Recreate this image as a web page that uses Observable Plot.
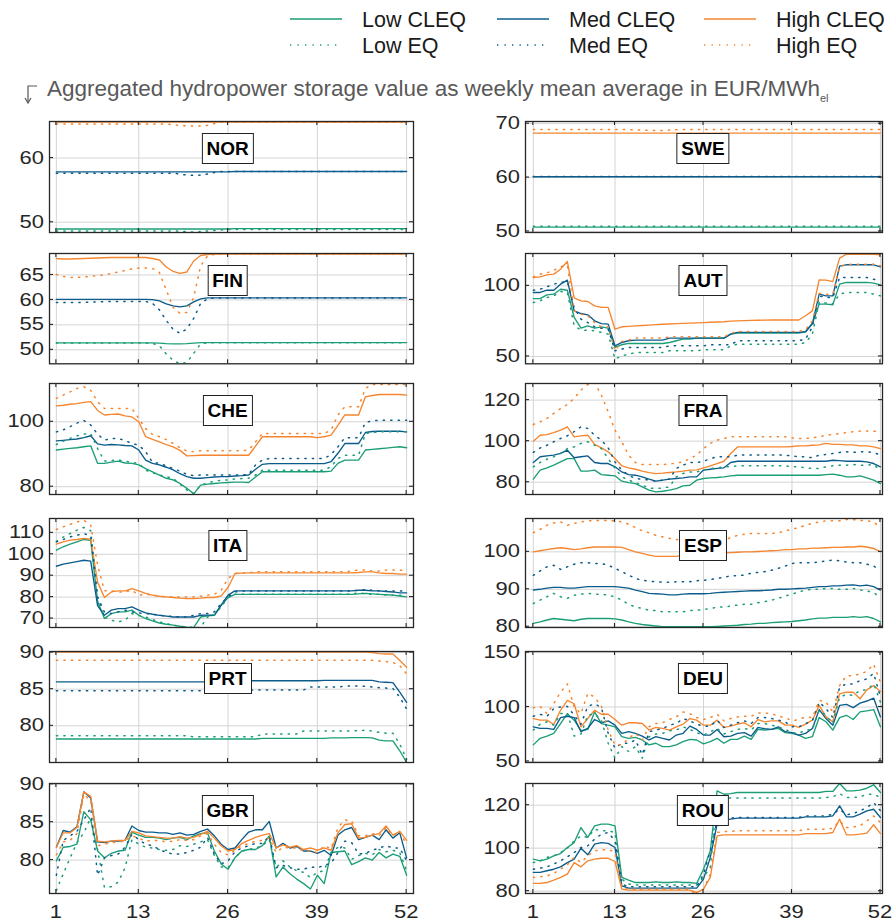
<!DOCTYPE html>
<html>
<head>
<meta charset="utf-8">
<script src="https://cdn.jsdelivr.net/npm/d3@7"></script>
<script src="https://cdn.jsdelivr.net/npm/@observablehq/plot@0.6"></script>
<style>
  body { margin: 0; background: #fff; }
  #root { position: relative; width: 896px; height: 924px; overflow: hidden; font-family: "Liberation Sans", Arial, sans-serif; }
  .chart { position: absolute; }
  .tag { position: absolute; transform: translateX(-50%); background: #fff; border: 1.3px solid #222; font-weight: bold; font-size: 19px; line-height: 29px; padding: 0 4px; color: #000; }
  .sub { position: absolute; left: 47px; top: 76px; font-size: 22.5px; color: #595959; white-space: nowrap; }
  .sub sub { font-size: 11px; }
</style>
</head>
<body>
<div id="root"></div>
<script>
// Weekly mean hydropower storage values (EUR/MWh_el), weeks 1..52
const weekTicks = [1, 13, 26, 39, 52];
const seriesNames = ["Low CLEQ", "Med CLEQ", "High CLEQ", "Low EQ", "Med EQ", "High EQ"];
const seriesColors = ["#1b9e77", "#0b5c8c", "#f5862f", "#1b9e77", "#0b5c8c", "#f5862f"];

// NOR
const NOR_lowCLEQ = [
  48.95,48.95,48.95,48.95,48.95,48.95,48.95,48.95,48.95,48.95,48.95,48.95,48.95,
  48.95,48.95,48.95,48.95,48.95,48.95,48.95,48.95,48.95,48.95,48.95,48.95,48.95,
  49,49,49,49,49,49,49,49,49,49,49,49,49,
  49,49,49,49,49,49,49,49,49,49,49,49,49];
const NOR_medCLEQ = [
  57.85,57.85,57.85,57.85,57.85,57.85,57.85,57.85,57.85,57.85,57.85,57.85,57.85,
  57.85,57.85,57.85,57.85,57.85,57.85,57.85,57.85,57.85,57.85,57.85,57.85,57.85,
  57.9,57.9,57.9,57.9,57.9,57.9,57.9,57.9,57.9,57.9,57.9,57.9,57.9,
  57.9,57.9,57.9,57.9,57.9,57.9,57.9,57.9,57.9,57.9,57.9,57.9,57.9];
const NOR_highCLEQ = [
  65.6,65.6,65.6,65.6,65.6,65.6,65.6,65.6,65.6,65.6,65.6,65.6,65.6,
  65.6,65.6,65.6,65.6,65.6,65.6,65.6,65.6,65.6,65.6,65.6,65.6,65.6,
  65.6,65.6,65.6,65.6,65.6,65.6,65.6,65.6,65.6,65.6,65.6,65.6,65.6,
  65.6,65.6,65.6,65.6,65.6,65.6,65.6,65.6,65.6,65.6,65.6,65.6,65.6];
const NOR_lowEQ = [
  48.65,48.65,48.65,48.65,48.65,48.65,48.65,48.65,48.65,48.65,48.65,48.65,48.65,
  48.65,48.65,48.65,48.65,48.65,48.6,48.55,48.45,48.55,48.65,48.7,48.8,48.85,
  48.85,48.85,48.85,48.85,48.85,48.85,48.85,48.85,48.85,48.85,48.85,48.85,48.85,
  48.85,48.85,48.85,48.85,48.85,48.85,48.85,48.85,48.85,48.85,48.85,48.85,48.85];
const NOR_medEQ = [
  57.65,57.65,57.65,57.65,57.65,57.65,57.65,57.65,57.65,57.65,57.65,57.65,57.65,
  57.65,57.65,57.65,57.65,57.65,57.5,57.35,57.3,57.35,57.5,57.75,57.9,57.9,
  57.9,57.9,57.9,57.9,57.9,57.9,57.9,57.9,57.9,57.9,57.9,57.9,57.9,
  57.9,57.9,57.9,57.9,57.9,57.9,57.9,57.9,57.9,57.9,57.9,57.9,57.9];
const NOR_highEQ = [
  65.3,65.3,65.3,65.3,65.3,65.3,65.3,65.3,65.3,65.3,65.3,65.3,65.3,
  65.3,65.3,65.3,65.3,65.2,65.1,65,65,65,65.1,65.4,65.6,65.6,
  65.6,65.6,65.6,65.6,65.6,65.6,65.6,65.6,65.6,65.6,65.6,65.6,65.6,
  65.6,65.6,65.6,65.6,65.6,65.6,65.6,65.6,65.6,65.6,65.6,65.6,65.6];

// SWE
const SWE_lowCLEQ = [
  50.8,50.8,50.8,50.8,50.8,50.8,50.8,50.8,50.8,50.8,50.8,50.8,50.8,
  50.8,50.8,50.8,50.8,50.8,50.8,50.8,50.8,50.8,50.8,50.8,50.8,50.8,
  50.8,50.8,50.8,50.8,50.8,50.8,50.8,50.8,50.8,50.8,50.8,50.8,50.8,
  50.8,50.8,50.8,50.8,50.8,50.8,50.8,50.8,50.8,50.8,50.8,50.8,50.8];
const SWE_medCLEQ = [
  60.15,60.15,60.15,60.15,60.15,60.15,60.15,60.15,60.15,60.15,60.15,60.15,60.15,
  60.15,60.15,60.15,60.15,60.15,60.15,60.15,60.15,60.15,60.15,60.15,60.15,60.15,
  60.15,60.15,60.15,60.15,60.15,60.15,60.15,60.15,60.15,60.15,60.15,60.15,60.15,
  60.15,60.15,60.15,60.15,60.15,60.15,60.15,60.15,60.15,60.15,60.15,60.15,60.15];
const SWE_highCLEQ = [
  68.25,68.25,68.25,68.25,68.25,68.25,68.25,68.25,68.25,68.25,68.25,68.25,68.25,
  68.25,68.25,68.25,68.25,68.25,68.25,68.25,68.25,68.25,68.25,68.25,68.25,68.25,
  68.25,68.25,68.25,68.25,68.25,68.25,68.25,68.25,68.25,68.25,68.25,68.25,68.25,
  68.25,68.25,68.25,68.25,68.25,68.25,68.25,68.25,68.25,68.25,68.25,68.25,68.25];
const SWE_lowEQ = [
  50.95,50.95,50.95,50.95,50.95,50.95,50.95,50.95,50.95,50.95,50.95,50.95,50.95,
  50.95,50.95,50.95,50.95,50.95,50.95,50.95,50.95,50.95,50.95,50.95,50.95,50.95,
  50.95,50.95,50.95,50.95,50.95,50.95,50.95,50.95,50.95,50.95,50.95,50.95,50.95,
  50.95,50.95,50.95,50.95,50.95,50.95,50.95,50.95,50.95,50.95,50.95,50.95,50.95];
const SWE_medEQ = [
  60.2,60.2,60.2,60.2,60.2,60.2,60.2,60.2,60.2,60.2,60.2,60.2,60.2,
  60.2,60.2,60.2,60.2,60.2,60.2,60.2,60.2,60.2,60.2,60.2,60.2,60.2,
  60.2,60.2,60.2,60.2,60.2,60.2,60.2,60.2,60.2,60.2,60.2,60.2,60.2,
  60.2,60.2,60.2,60.2,60.2,60.2,60.2,60.2,60.2,60.2,60.2,60.2,60.2];
const SWE_highEQ = [
  68.9,68.9,68.9,68.9,68.9,68.9,68.9,68.9,68.9,68.9,68.9,68.9,68.9,
  68.9,68.9,68.85,68.8,68.75,68.75,68.75,68.8,68.85,68.9,68.9,68.9,68.9,
  68.9,68.9,68.9,68.9,68.9,68.9,68.9,68.9,68.9,68.9,68.9,68.9,68.9,
  68.9,68.9,68.9,68.9,68.9,68.9,68.9,68.9,68.9,68.9,68.9,68.9,68.9];

// FIN
const FIN_lowCLEQ = [
  51.4,51.4,51.4,51.4,51.4,51.4,51.4,51.4,51.4,51.4,51.4,51.4,51.4,
  51.4,51.4,51.35,51.25,51.2,51.2,51.25,51.35,51.45,51.45,51.45,51.45,51.45,
  51.45,51.45,51.45,51.45,51.45,51.45,51.45,51.45,51.45,51.45,51.45,51.45,51.45,
  51.45,51.45,51.45,51.45,51.45,51.45,51.45,51.45,51.45,51.45,51.45,51.45,51.45];
const FIN_medCLEQ = [
  60.1,60.1,60.1,60.1,60.1,60.1,60.1,60.1,60.1,60.1,60.1,60.1,60.1,
  60.1,60.05,59.8,59.2,58.8,58.6,58.8,59.6,60.2,60.4,60.4,60.4,60.4,
  60.4,60.4,60.4,60.4,60.4,60.4,60.4,60.4,60.4,60.4,60.4,60.4,60.4,
  60.4,60.4,60.4,60.4,60.4,60.4,60.4,60.4,60.4,60.4,60.4,60.4,60.4];
const FIN_highCLEQ = [
  68.3,68.2,68.2,68.25,68.3,68.35,68.4,68.45,68.5,68.5,68.5,68.5,68.5,
  68.5,68.3,68,66.6,65.7,65.3,65.6,67.8,68.9,69.1,69.2,69.2,69.2,
  69.2,69.2,69.2,69.2,69.2,69.2,69.2,69.2,69.2,69.2,69.2,69.2,69.2,
  69.2,69.2,69.2,69.2,69.2,69.2,69.2,69.2,69.2,69.2,69.2,69.2,69.2];
const FIN_lowEQ = [
  51.35,51.35,51.35,51.35,51.35,51.35,51.35,51.35,51.35,51.35,51.35,51.35,51.35,
  51.35,51.3,50.8,49.2,47.9,47.2,47.5,49.3,51.2,51.4,51.4,51.4,51.4,
  51.4,51.4,51.4,51.4,51.4,51.4,51.4,51.4,51.4,51.4,51.4,51.4,51.4,
  51.4,51.4,51.4,51.4,51.4,51.4,51.4,51.4,51.4,51.4,51.4,51.4,51.4];
const FIN_medEQ = [
  59.5,59.5,59.5,59.5,59.5,59.55,59.6,59.65,59.7,59.7,59.7,59.7,59.7,
  59.7,59.3,58,55.9,54.1,53.3,54.2,56.3,59.3,60.2,60.4,60.4,60.4,
  60.4,60.4,60.4,60.4,60.4,60.4,60.4,60.4,60.4,60.4,60.4,60.4,60.4,
  60.4,60.4,60.4,60.4,60.4,60.4,60.4,60.4,60.4,60.4,60.4,60.4,60.4];
const FIN_highEQ = [
  65.1,64.7,64.5,64.5,64.6,64.7,64.9,65,65.3,65.6,65.9,66.2,66.4,
  66.4,66.3,65.5,62,58.5,57.3,57.5,60.5,66.8,68.8,69.1,69.2,69.2,
  69.2,69.2,69.2,69.2,69.2,69.2,69.2,69.2,69.2,69.2,69.2,69.2,69.2,
  69.2,69.2,69.2,69.2,69.2,69.2,69.2,69.2,69.2,69.2,69.2,69.2,69.2];

// AUT
const AUT_lowCLEQ = [
  91,91,93.6,94.1,97.6,96.9,77.6,70,71.7,70,71,70,56.4,
  58.3,59.2,59.2,59.2,59.2,59.2,59.2,59.9,61.1,62.3,62.3,63,63,
  63,63,63,65.8,66.5,66.5,66.5,66.5,66.5,66.5,66.5,66.5,66.5,
  66.5,67.5,73.3,87,87,86.6,101.2,102.4,102.4,102.4,102.4,101.9,100.7];
const AUT_medCLEQ = [
  95.3,95.3,96.9,96.9,101.2,104,82.3,80.4,79.5,75.2,73.3,72.9,57.5,
  59.9,61.1,61.6,61.6,61.6,61.6,61.6,63,63,63,63,63,63,
  63,63,63,65.8,67,67,67,67,67,67,67,67,67,
  67,67.5,73.3,94.1,92.9,92.9,114,114.9,114.9,114.9,114.9,114.9,113.4];
const AUT_highCLEQ = [
  105.9,106.4,107.8,108.3,111.8,117.2,91.5,89.4,88.9,85.8,84.7,84.7,69.3,
  71,71.3,71.6,71.9,72.2,72.5,72.8,73,73.2,73.4,73.6,73.8,74,
  74.2,74.4,74.6,75,75.2,75.4,75.5,75.6,75.7,75.8,75.8,75.8,75.8,
  75.8,78.8,82.3,104.2,104,103,119.6,122.4,122.4,122.4,122.4,122.4,122];
const AUT_lowEQ = [
  88.2,89.4,91.7,92.9,96,95.3,71.7,68.6,68.6,68.2,67,65.8,48.1,
  50.5,51.6,52.8,52.8,52.8,52.8,52.8,54,54,54,54,54,54.7,
  54.7,54.7,54.7,57.5,58.7,58.7,58.7,58.7,58.7,58.7,58.7,58.7,58.7,
  58.7,59.9,65.8,88.5,87.8,87.3,94.1,95.3,95.3,95.3,95.3,94.1,92.9];
const AUT_medEQ = [
  96.9,97.6,99.3,101.2,102.4,103,84.7,76.4,74,71,70,69.3,54,
  55.2,56.4,56.4,56.4,56.4,56.4,56.4,57.5,57.5,57.5,57.5,57.5,57.5,
  58.3,58.3,58.3,58.3,61.1,61.1,61.1,61.1,61.1,61.1,61.1,61.1,61.1,
  61.1,62.3,71,92.9,91.7,91.7,105.9,105.9,105.9,105.9,105.9,104.7,103];
const AUT_highEQ = [
  106.4,108.3,109.2,111,113.5,114.5,82.3,80,78.8,74,71,71,54,
  60.6,61.6,63,63,63,63,63,63.9,63.9,63.9,63.9,63.9,63.9,
  63.9,63.9,63.9,66.3,67.7,67.7,67.7,67.7,67.7,67.7,67.7,67.7,67.7,
  67.7,69.1,75.2,94.6,94.1,94.1,113.4,115.3,115.3,115.3,115.3,115.3,114.2];

// CHE
const CHE_lowCLEQ = [
  91.3,91.6,91.8,92,92.3,92.6,87.2,87.2,87.6,87.9,87.3,87.2,86.7,
  85.6,84.6,83.6,82.6,82.1,81,79.5,77.8,80.5,80.8,81,81.2,81.3,
  81.4,81.4,81.3,83,84.6,84.6,84.6,84.6,84.6,84.6,84.6,84.6,84.6,
  84.6,84.8,87.2,88.2,88.2,88.2,91.3,91.5,91.7,91.9,92.1,92.3,92];
const CHE_medCLEQ = [
  94.1,94.3,94.5,94.7,95.1,95.7,93.2,92.8,93,92.9,92.7,92.6,91.3,
  88.2,87.2,86.7,86,85.2,84,83.1,82.6,82.6,82.8,83,83.1,83.1,
  83.3,83.4,83.6,85.4,86.9,87.1,87.1,87.1,87.1,87.1,87.1,87.1,87.1,
  87.1,87.7,90.3,93.3,93.3,93.3,96.7,97,97.1,97.1,97.1,97.1,96.9];
const CHE_highCLEQ = [
  104.9,105.1,105.4,105.6,106,106.2,103.5,102.1,102.3,102.4,101.8,101.5,100,
  95.4,94.6,93.8,93,92.3,91.2,89.5,89.6,89.7,89.7,89.7,89.7,89.7,
  89.7,89.7,89.7,92.5,95.4,95.4,95.4,95.4,95.4,95.4,95.4,95.4,95.1,
  95.4,95.9,98.9,102.1,102.1,102.1,107.7,108.1,108.4,108.4,108.4,108.4,108.2];
const CHE_lowEQ = [
  93,94,94.9,95.7,96.2,96.4,91.8,87.9,88.1,88.2,87.9,87.5,87.2,
  85.1,84.3,83.6,83.1,82.6,80.8,79,77.9,80.4,81.2,81.7,82,82.1,
  82.4,82.5,82.6,83.6,85.1,85.1,85.1,85.1,85.1,85.1,85.1,85.1,85.1,
  85.1,86.2,88.7,89.7,89.7,89.7,96.4,96.7,96.9,96.9,96.9,96.9,96.9];
const CHE_medEQ = [
  96.9,97.5,98.5,99.6,100.4,99,96.2,94.4,94.8,94.9,94.2,93.3,92.8,
  90.8,87.5,87.2,86.4,85.6,84.8,83.8,83.4,83.6,83.6,83.6,83.6,83.6,
  83.6,83.6,83.8,86.7,88.2,88.7,88.7,88.7,88.7,88.7,88.7,88.7,88.7,
  88.7,89.9,92.3,95.1,95.1,95.1,99.8,100.3,100.5,100.5,100.5,100.5,100.5];
const CHE_highEQ = [
  107.2,108.2,109.2,110.3,110.8,109.7,106.2,104.1,104.1,104.1,104.1,104.1,101,
  97.9,96.1,95.4,94.5,93.3,92,91,90.8,91.1,91.1,91.1,91.1,91.1,
  91.1,91.1,91.3,93.8,96.4,96.4,96.4,96.4,96.4,96.4,96.4,96.4,96.4,
  96.4,97.4,102.1,104.6,104.6,104.6,110.3,111.5,111.5,111.5,111.5,111.5,111.5];

// FRA
const FRA_lowCLEQ = [
  81.5,85.9,87,88.3,89.9,91.5,91.5,85.4,85.4,85.9,83.7,83.4,83.1,
  80.5,79.8,79.3,77.7,76.1,75.3,75.6,76.1,76.9,78.2,78.5,81,81.8,
  82.1,82.3,82.6,83.1,83.4,83.4,83.4,83.4,83.4,83.4,83.4,83.4,83.4,
  83.4,83.4,83.4,83.4,83.7,83.9,83.4,82.6,82.6,83.1,82.1,81,79.3];
const FRA_medCLEQ = [
  89.6,92.4,92.8,93.2,94,95.6,91.9,92.4,92.8,89.6,89.1,89.1,87.5,
  85,83.7,83.4,82.6,81.5,80.5,81,81.5,81.8,82.1,82.6,82.6,85.9,
  86.3,86.7,87,89.6,90.2,90.2,90.2,90.2,90.2,90.2,90.2,90.2,90.2,
  90.2,90.2,90.2,90.2,90.2,90.7,90.5,90.2,90.2,90.2,89.9,89.1,87.5];
const FRA_highCLEQ = [
  100,102.9,103.2,104.2,105.4,107,102.1,102.6,102.9,98.4,96.7,94.8,91.5,
  88,87,86.3,85.4,84.7,84.2,84.4,84.7,85,85.4,85.9,86,87,
  88,89.1,90.2,94,97.2,97.2,97.2,97.2,97.2,97.2,97.2,97.2,97.4,
  97.7,97.7,98,98.2,98.9,98.4,98.4,98.2,98.2,97.7,97.7,97.2,96.4];
const FRA_lowEQ = [
  87.5,89.6,91.2,92.4,94,96.4,97.2,98.9,99.7,98,96.4,91.5,86.7,
  82.6,81,79.8,78.5,77.2,76.9,77.2,77.7,82.6,84.2,85,85,85.9,
  86.7,87,87.5,87.5,88,88,88,88,88,88,88,88,87.5,
  87.5,87,86.7,86.7,87.5,88,88.3,88.3,88.6,88.3,88.3,88.6,85.9];
const FRA_medEQ = [
  94.5,96.7,98,99.7,101.3,102.6,104.6,107,106.2,102.9,100.5,96.7,89.9,
  85.9,83.4,81.8,81.5,81,80.5,81,81.5,86.7,88.3,89.6,89.6,90.2,
  91.5,92.4,92.4,92.4,93.2,93.2,93.2,93.2,93.2,93.2,93.2,93.2,92.8,
  92.4,92.4,91.9,93.2,93.5,94,94.5,94.8,94.5,94.8,94.8,94.5,93.2];
const FRA_highEQ = [
  108.1,109.4,111.1,113.5,115.9,117.9,120.8,124.9,127.6,128.5,122.4,114.3,105.4,
  99.7,93.2,89.6,88.6,88.6,88.6,88.6,88.9,89.3,89.9,91.5,93.2,96.4,
  98.9,100.5,101.3,102.1,102.1,102.1,102.1,102.1,102.1,102.1,102.1,102.1,101.6,
  101.3,101.3,101.6,102.1,102.9,103.3,103.7,104.2,104.6,104.9,104.9,104.9,104.6];

// ITA
const ITA_lowCLEQ = [
  101.9,103.5,104.7,105.8,106.9,106.5,78,70,72.3,73.1,73.1,73.9,71.5,
  70,68.9,67.9,67.3,66.9,66.4,66,65.8,70.7,71.2,71.5,76.2,79.8,
  81.3,81.3,81.3,81.3,81.3,81.3,81.3,81.3,81.3,81.3,81.3,81.3,81.3,
  81.3,81.3,81.3,81.3,81.3,81.5,81.7,81.5,81.3,81.1,80.9,80.5,80.1];
const ITA_medCLEQ = [
  94.4,95.4,96,96.6,97.2,96.8,76,71.5,73.9,74.6,74.6,75.4,73.9,
  72.6,72,71.5,71.1,70.7,70.7,70.7,70.7,71.5,71.6,71.6,76.2,80.9,
  82.9,82.9,82.9,82.9,82.9,82.9,82.9,82.9,82.9,82.9,82.9,82.9,82.9,
  82.9,82.9,82.9,82.9,82.9,83.2,83.2,82.9,82.9,82.6,82.4,82,82];
const ITA_highCLEQ = [
  104.7,105.8,106.6,106.9,107.4,107,87,79.8,82.4,82.9,82.9,84,82.9,
  81.7,80.9,80.4,80.1,79.8,79.5,79.3,79.3,79.5,79.8,79.8,80.6,84.5,
  91,91.2,91.3,91.3,91.3,91.3,91.3,91.3,91.3,91.3,91.3,91.3,91.3,
  91.3,91.3,91.3,91.3,91.3,91.5,91.8,91.8,91.3,91,91,90.7,90.7];
const ITA_lowEQ = [
  106,108,109.7,111.2,112.5,111,80,70.7,69.2,68.4,69.2,72.3,71.5,
  70.7,69.5,68.4,67.6,66.9,66.4,66,65.8,65.8,70.7,71.5,75.4,79.8,
  81.3,81.3,81.3,81.3,81.3,81.3,81.3,81.3,81.3,81.3,81.3,81.3,81.3,
  81.3,81.3,81.3,81.3,81.5,82,81.5,81.3,81.3,81,80.9,80.9,80.6];
const ITA_medEQ = [
  105.8,106.9,108.1,108.9,109.7,108.5,80,73.1,72.3,73.1,73.9,73.1,72.6,
  72.3,72,71.5,71.1,71.1,70.7,70.7,71.5,72.3,72.3,73.1,77,80.1,
  82.4,82.9,82.9,82.9,82.9,82.9,82.9,82.9,82.9,82.9,82.9,82.9,82.9,
  82.9,82.9,82.9,82.9,82.9,83.2,83.5,83.2,82.9,82.9,82.9,82.9,82.9];
const ITA_highEQ = [
  111.6,112.8,114,115.1,115.9,113.6,95,83,82.9,82.4,82.4,83.2,80.9,
  81.3,80.9,80.4,80.1,80.1,80.1,80.1,80.1,80.4,80.9,81.3,83.2,88.7,
  91,91.3,91.3,91.8,91.8,91.8,91.8,91.8,91.8,91.8,91.8,91.8,91.8,
  91.8,91.8,91.8,91.8,92.2,92.6,92.6,92.2,92.2,92.6,92.6,92.6,92.2];

// ESP
const ESP_lowCLEQ = [
  80.9,81.3,81.8,82.2,82,81.8,81.6,82,82.2,82.2,82.2,82.2,82.1,
  81.8,81.3,80.9,80.6,80.4,80.2,80,80,80,80,80,80,80,
  80,80.1,80.2,80.3,80.4,80.6,80.7,80.9,80.9,81.1,81.2,81.3,81.4,
  81.6,81.8,82.1,82.3,82.3,82.5,82.5,82.5,82.7,82.5,82.7,82.2,81.3];
const ESP_medCLEQ = [
  89.8,90,90.3,90.5,90.5,90.3,90.3,90.5,90.7,90.7,90.7,90.7,90.7,
  90.5,90.3,89.8,89.4,88.9,88.8,88.7,88.5,88.5,88.7,88.8,88.8,88.8,
  88.9,89.1,89.2,89.3,89.4,89.5,89.6,89.6,89.7,89.8,90,90,90.1,
  90.2,90.3,90.5,90.7,90.7,90.9,90.9,91.1,91.2,90.9,91.1,90.7,89.8];
const ESP_highCLEQ = [
  100,100.3,100.6,100.9,101.1,100.9,100.6,100.8,101.1,101.3,101.3,101.3,101.3,
  101.2,100.6,100,99.6,99.1,98.8,98.8,98.8,98.8,99.1,99.1,99.3,99.4,
  99.6,99.6,99.7,99.8,99.9,100,100,100.1,100.2,100.3,100.4,100.6,100.6,
  100.8,100.8,101,101,101.1,101.2,101.2,101.3,101.3,101.5,101.3,100.9,100];
const ESP_lowEQ = [
  86.2,87.1,88,88.9,88,87.6,88.4,88.7,88.9,88.7,88.7,88.4,88,
  87.1,86,85.3,84.9,84.4,84.3,84,84,84,84,84.3,84.4,84.6,
  84.9,85.2,85.3,85.5,85.8,86,86,86.4,86.7,87.1,87.6,88.2,88.7,
  89.3,89.8,90,90,90.2,90.2,90,90,90.2,89.8,89.6,89.1,87.8];
const ESP_medEQ = [
  93.7,94.9,96,96.4,95.3,96,96.7,97.1,97.1,96.9,96.9,96.4,95.6,
  94.7,93.8,92.9,92.4,92.2,92,91.9,91.9,92,92,92,92.3,92.4,
  92.6,92.9,93.2,93.6,93.6,93.8,94.3,94.5,94.7,95.1,95.6,96.2,96.9,
  97.1,97.1,97.1,97.3,97.6,97.8,97.6,97.3,97.1,97.1,96.7,96.2,95.1];
const ESP_highEQ = [
  105.1,106,107.1,107.7,108,107.1,107.6,108,108.3,108.3,108.4,108.3,108.3,
  108,107.4,106.5,105.6,105.1,104.4,104,103.6,103.3,103.1,102.9,102.9,102.9,
  103.1,103.1,103.1,103.8,104.4,104.7,104.9,104.9,104.9,104.9,105.1,105.6,106,
  106.5,107.1,107.6,108,108.3,108.3,108.3,108.6,108.6,108.4,108.3,108,106.5];

// PRT
const PRT_lowCLEQ = [
  78.2,78.2,78.2,78.2,78.2,78.2,78.2,78.2,78.2,78.2,78.2,78.2,78.2,
  78.2,78.2,78.2,78.2,78.2,78.2,78.2,78.2,78.2,78.2,78.2,78.2,78.2,
  78.2,78.2,78.2,78.2,78.3,78.3,78.3,78.3,78.3,78.3,78.3,78.3,78.3,
  78.3,78.35,78.35,78.35,78.4,78.4,78.4,78.35,78.05,77.95,77.95,76.6,75];
const PRT_medCLEQ = [
  86,86,86,86,86,86,86,86,86,86,86,86,86,
  86,86,86,86,86,86,86,86,86,86,86,86,86,
  86.15,86.15,86.15,86.15,86.15,86.15,86.15,86.15,86.15,86.15,86.15,86.15,86.15,
  86.2,86.2,86.2,86.2,86.2,86.2,86.2,86.2,86,85.95,85.9,84.6,83.2];
const PRT_highCLEQ = [
  90.05,90.05,90.05,90.05,90.05,90.05,90.05,90.05,90.05,90.05,90.05,90.05,90.05,
  90.05,90.05,90.05,90.05,90.05,90.05,90.05,90.05,90.05,90.05,90.05,90.05,90.05,
  90.05,90.05,90.05,90.05,90.05,90.05,90.05,90.05,90.05,90.05,90.05,90.05,90.05,
  90.05,90.05,90.05,90.05,90.05,90.05,90.05,90,89.85,89.8,89.8,88.9,88];
const PRT_lowEQ = [
  78.65,78.65,78.65,78.65,78.65,78.65,78.65,78.65,78.65,78.65,78.65,78.65,78.65,
  78.65,78.65,78.65,78.65,78.65,78.65,78.65,78.5,78.5,78.5,78.5,78.5,78.5,
  78.5,78.5,78.5,78.5,78.9,78.9,78.9,78.9,78.9,78.9,79.3,79.3,79.3,
  79.3,79.3,79.3,79.3,79.3,79.35,79.4,79.3,79.1,79,79,77.5,75.45];
const PRT_medEQ = [
  84.8,84.8,84.8,84.8,84.8,84.8,84.8,84.8,84.8,84.8,84.8,84.8,84.8,
  84.8,84.8,84.8,84.8,84.8,84.8,84.8,84.8,84.8,84.8,84.8,84.8,84.9,
  84.9,84.9,84.9,84.9,84.9,84.9,84.9,84.9,84.9,84.9,84.9,85.3,85.3,
  85.3,85.3,85.3,85.4,85.45,85.45,85.4,85.3,85.2,85.15,85.1,83.9,82.3];
const PRT_highEQ = [
  88.95,88.95,88.95,88.95,88.95,88.95,88.95,88.95,88.95,88.95,88.95,88.95,88.95,
  88.95,88.95,88.95,88.95,88.95,88.95,88.95,88.95,88.95,88.95,88.95,88.95,88.95,
  88.95,88.95,88.95,88.95,88.95,88.95,88.95,88.95,88.95,88.95,88.95,88.95,88.95,
  88.95,88.95,88.95,88.95,88.95,88.95,88.95,88.95,88.85,88.75,88.65,88.2,87.1];

// DEU
const DEU_lowCLEQ = [
  65.2,71.2,73.3,75.8,84.8,93.9,87.9,78.2,79.4,95.5,84.8,83.3,81.8,
  72.7,71.2,72.1,69.7,65.2,66.7,63.6,63.6,65.2,68.2,70.3,69.7,66.1,
  68.2,71.2,66.7,70.3,70.3,73.3,70.3,79.4,78.8,79.4,80.3,76.4,75.8,
  74.2,71.2,72.7,90.3,86.4,78.8,90.3,92.4,88.5,95.5,96.4,97.6,81.8];
const DEU_medCLEQ = [
  81.8,80.3,80.3,79.4,90.3,91.5,90.3,77.3,80.3,88.5,85.5,87.3,83.3,
  75.8,77.3,75.8,73.3,69.7,72.7,71.2,69.7,74.2,75.8,82.4,79.4,74.2,
  74.2,79.4,72.7,73.3,75.8,76.4,73.3,81.2,80,79.4,81.8,77.3,76.4,
  74.2,75.8,80.3,97.6,89.4,83.3,101.5,102.4,99.4,103.6,105.5,108.2,90.9];
const DEU_highCLEQ = [
  89.4,87.9,87.9,83.9,97,106.1,103,81.8,89.4,97,93.3,93.3,88.5,
  83.3,85.5,85.5,84.8,78.8,81.2,80.3,78.8,81.8,84.2,89.4,87.9,83.3,
  83.3,87.9,81.2,82.4,84.2,85.5,81.8,88.5,86.4,87.3,87.3,83.3,83.3,
  81.2,84.2,87.9,101.5,90.9,86.4,112.1,113.6,113.6,107.6,115.8,119.7,114.2];
const DEU_lowEQ = [
  78.8,84.2,86.4,83.3,93.9,94.5,73.3,75.2,92.4,93.9,87.9,66.7,53,
  63.6,59.1,63.6,53,72.7,75.2,75.8,78.2,78.8,81.8,79.4,76.4,74.2,
  77.3,80.3,75.2,77.3,79.4,80.3,78.8,84.8,84.8,83.3,81.8,79.4,76.4,
  75.8,78.8,79.4,97,92.4,84.8,109.1,111.5,110.6,115.2,115.8,121.2,104.5];
const DEU_medEQ = [
  91.5,93.3,91.5,98.5,100,100.6,92.4,84.2,100.6,103,99.4,75.8,62.1,
  66.7,66.7,69.7,56.1,77.3,78.8,80.3,83.3,84.8,89.4,87.3,84.2,82.4,
  82.4,87.9,81.2,83.3,85.5,87.3,84.8,90.3,90.3,89.4,87.9,86.4,81.8,
  81.8,84.8,87.3,104.5,98.5,90.3,118.2,121.2,121.2,124.2,125.8,130.9,109.1];
const DEU_highEQ = [
  99.4,100.6,93.9,103,113.6,121.2,100,93.9,112.7,109.1,100.6,78.8,65.2,
  65.2,71.2,75.8,69.7,81.8,84.8,85.5,88.5,90.9,95.5,93.9,90.3,88.5,
  90.3,93.3,87.3,89.4,90.9,91.5,91.5,94.5,94.5,93.9,91.5,90.3,87.3,
  88.5,90.9,90.3,106.1,104.5,95.5,119.7,128.8,128.8,130.3,132.7,139.4,122.7];

// GBR
const GBR_lowCLEQ = [
  79.9,81.7,81.8,82.1,86.4,85.3,81.2,80.3,80.9,81.2,81.3,83.7,83.3,
  83,83,82.9,82.7,82.9,83,82.7,83.2,83.5,83.6,81.2,79.5,78.8,
  80.3,81.2,81.4,81.4,81.9,83.2,77.8,79.1,78.2,77.5,76.9,76.2,78,
  76.9,81,81.1,81.2,79.4,79.8,80.3,80,81,80.3,80.8,80.5,78];
const GBR_medCLEQ = [
  81.7,83.9,83.7,84.4,89,88.2,82.4,82.3,82.5,82.5,82.6,84.5,83.9,
  83.7,83.7,83.6,83.6,83.4,83.6,83.3,83.4,83.8,84.1,83.2,82.1,81.4,
  81.6,82.7,83.7,84,84,85.1,81.6,82.2,81.6,81.8,81.2,81.2,80.9,
  81.3,80.6,83.3,84,84.3,82.7,83,83.3,82.7,84,82.9,83.6,80.3];
const GBR_highCLEQ = [
  81.7,83.6,83.6,84.3,89,88.4,82.5,82.4,82.5,82.6,82.6,83.8,83.6,
  83.2,83.1,83,82.9,82.9,83.1,82.9,83,83.4,83.8,82.9,81.9,81.2,
  81.4,82.2,82.6,83,83.3,83.5,81.6,82,81.7,81.9,81.4,81.6,81.3,
  81.6,81.3,83.6,84.7,84.8,82.9,83,83.3,83.5,84.5,83.3,83.8,82.6];
const GBR_lowEQ = [
  76,78.2,80.3,82.3,83.6,85.6,81.4,76.4,76.5,77.1,79,82.7,82.1,
  81.7,81.6,81.4,81.3,81.4,81.9,81.8,82.1,82.4,82.7,80.6,79.1,79,
  80.3,81.2,81.4,81.6,81.9,82.7,79,79.9,79.1,78.6,78.4,77.7,78.4,
  78.6,81,81.7,81.6,80.1,80.6,80.9,80.7,81.4,81.1,81.3,81,78.6];
const GBR_medEQ = [
  78,82.6,83.2,83.8,85.3,86.9,78,80.3,80.6,80.8,81.7,83.4,82.7,
  82.1,81.9,81.4,81,80.8,80.8,81,81.3,81.7,83,80.8,79.5,79.9,
  81.1,81.6,81.9,82.2,82.2,83.2,79,79.3,79,78.8,78.8,79.1,79,
  79.3,79.6,81,82.5,82.3,80.8,80.9,81.3,81.6,81.9,81.6,81.6,79.9];
const GBR_highEQ = [
  80.7,82.4,82.6,83.5,88.7,87.8,81.9,82.1,82.3,82.4,82.5,83.2,82.9,
  82.5,82.6,82.6,82.4,82.5,82.7,82.6,82.7,83.2,83.5,82.1,81,80.7,
  81.3,81.9,82.2,82.5,82.6,82.9,81,81.7,81.6,81.6,81.2,81.2,81,
  81.9,81.5,84.3,85.3,85.2,83.2,83.2,83.5,83.2,84.3,83.2,83.8,81.9];

// ROU
const ROU_lowCLEQ = [
  94.9,94.1,94.9,96.4,97.5,100.3,102.6,109.6,105,110.4,111.2,111.2,110.4,
  86.4,85.1,84,84,84,84.3,84,84,84.3,84,84,83.6,90.2,
  98.8,126.7,125.1,125.4,125.9,125.9,125.9,125.9,125.9,125.9,125.9,125.9,125.9,
  125.9,125.9,125.9,125.9,126.4,126.4,130.1,126.7,126.7,127,127.9,129.5,125.9];
const ROU_medCLEQ = [
  88.7,88.7,89.5,90.2,91.3,93.3,94.9,100,96.9,101.9,102.6,102.2,100.3,
  82.5,81.4,81.4,81.4,81.4,81.4,81.4,81.4,81.4,81.4,81.4,81.4,85.6,
  95.7,111.2,113,113.5,114,114,114,114,114,114,114,114,114,
  114,114.6,114.6,114.6,114.6,115,119.7,114.6,114.6,115.8,117.4,118.1,114.3];
const ROU_highCLEQ = [
  83.6,83.6,84,85.1,86.4,87.9,93.3,91.3,94.1,94.9,95.3,95.3,93.8,
  80.9,80.5,80.5,80.5,80.5,80.5,80.5,80.5,80.5,80.5,80.5,79.4,80.9,
  86.4,105.7,106.2,106.2,106.2,106.2,106.2,106.2,106.2,106.2,106.2,106.2,106.2,
  106.2,106.8,106.8,106.8,106.8,107.3,113.5,106.2,106.2,106.5,107,110.9,106.8];
const ROU_lowEQ = [
  93.3,94.1,95.7,96.4,98,100,103.4,105.7,105,108.8,108.1,108.1,107.3,
  85.6,83.3,82.9,82.9,82.9,82.9,82.9,82.9,82.9,82.9,82.9,82.9,86.4,
  91,123.6,123.3,123.3,123.3,123.3,123.3,123.3,123.3,123.3,123.3,123.3,123.3,
  123.3,123.3,123.3,123.3,123.6,123.9,125.4,123.6,123.6,123.9,125.1,125.1,123.6];
const ROU_medEQ = [
  90.2,90.7,91.3,92.6,94.1,96,98,100.3,101.1,104.2,106.5,107.3,103.4,
  83.3,82,82,82,82,82,82,82,82,82,82,82,87.9,
  98.8,112.7,114,114,114.3,114.3,114.3,114.3,114.3,114.3,114.3,114.3,114.3,
  114.3,115,115,115,115,115.8,118.1,115.5,116.1,117.4,118.9,121.2,117.4];
const ROU_highEQ = [
  86.4,86.7,87.1,88.2,90.2,92.2,95.7,93.3,96.4,98.8,99.1,99.5,98,
  81.7,80.9,80.9,80.9,80.9,80.9,80.9,80.9,80.9,80.9,80.9,77.8,80.9,
  87.9,107.3,107.8,107.8,108.1,108.1,108.1,108.1,108.1,108.1,108.1,108.1,108.1,
  108.1,108.8,108.8,108.8,108.8,109.3,112.7,109.6,109.9,110.4,112.7,115,111.9];

// Country panels: y range and y tick labels per country
const panels = [
  {code: "NOR", col: 0, row: 0, yDomain: [48.4, 65.7], yTicks: [50, 60],
   series: [NOR_lowCLEQ, NOR_medCLEQ, NOR_highCLEQ, NOR_lowEQ, NOR_medEQ, NOR_highEQ]},
  {code: "SWE", col: 1, row: 0, yDomain: [49.8, 70.4], yTicks: [50, 60, 70],
   series: [SWE_lowCLEQ, SWE_medCLEQ, SWE_highCLEQ, SWE_lowEQ, SWE_medEQ, SWE_highEQ]},
  {code: "FIN", col: 0, row: 1, yDomain: [47.2, 69.3], yTicks: [50, 55, 60, 65],
   series: [FIN_lowCLEQ, FIN_medCLEQ, FIN_highCLEQ, FIN_lowEQ, FIN_medEQ, FIN_highEQ]},
  {code: "AUT", col: 1, row: 1, yDomain: [44.8, 122.9], yTicks: [50, 100],
   series: [AUT_lowCLEQ, AUT_medCLEQ, AUT_highCLEQ, AUT_lowEQ, AUT_medEQ, AUT_highEQ]},
  {code: "CHE", col: 0, row: 2, yDomain: [77.6, 111.8], yTicks: [80, 100],
   series: [CHE_lowCLEQ, CHE_medCLEQ, CHE_highCLEQ, CHE_lowEQ, CHE_medEQ, CHE_highEQ]},
  {code: "FRA", col: 1, row: 2, yDomain: [74, 128.1], yTicks: [80, 100, 120],
   series: [FRA_lowCLEQ, FRA_medCLEQ, FRA_highCLEQ, FRA_lowEQ, FRA_medEQ, FRA_highEQ]},
  {code: "ITA", col: 0, row: 3, yDomain: [65.8, 116.7], yTicks: [70, 80, 90, 100, 110],
   series: [ITA_lowCLEQ, ITA_medCLEQ, ITA_highCLEQ, ITA_lowEQ, ITA_medEQ, ITA_highEQ]},
  {code: "ESP", col: 1, row: 3, yDomain: [79.8, 108.9], yTicks: [80, 90, 100],
   series: [ESP_lowCLEQ, ESP_medCLEQ, ESP_highCLEQ, ESP_lowEQ, ESP_medEQ, ESP_highEQ]},
  {code: "PRT", col: 0, row: 4, yDomain: [75, 90.14], yTicks: [80, 85, 90],
   series: [PRT_lowCLEQ, PRT_medCLEQ, PRT_highCLEQ, PRT_lowEQ, PRT_medEQ, PRT_highEQ]},
  {code: "DEU", col: 1, row: 4, yDomain: [49, 151], yTicks: [50, 100, 150],
   series: [DEU_lowCLEQ, DEU_medCLEQ, DEU_highCLEQ, DEU_lowEQ, DEU_medEQ, DEU_highEQ]},
  {code: "GBR", col: 0, row: 5, yDomain: [75.6, 90.1], yTicks: [80, 85, 90],
   series: [GBR_lowCLEQ, GBR_medCLEQ, GBR_highCLEQ, GBR_lowEQ, GBR_medEQ, GBR_highEQ]},
  {code: "ROU", col: 1, row: 5, yDomain: [78.9, 130.1], yTicks: [80, 100, 120],
   series: [ROU_lowCLEQ, ROU_medCLEQ, ROU_highCLEQ, ROU_lowEQ, ROU_medEQ, ROU_highEQ]}
];

for (const p of panels) p.series.forEach((s, i) => {
  if (s.length !== 52) throw new Error(p.code + " " + seriesNames[i] + " has " + s.length + " values");
});

// Page layout (frame edges in page pixels)
const colFrame = [{left: 49, right: 413, xDomain: [0, 53]}, {left: 525, right: 882, xDomain: [-0.15, 52.3]}];
const rowFrame = [{top: 121, h: 111}, {top: 252.7, h: 110.3}, {top: 383.3, h: 111}, {top: 518.3, h: 109}, {top: 650.7, h: 111}, {top: 783, h: 110}];
const ink = "#262626";
const dotPattern = "1.3,6.2";
// tick labels: a wide sans face, drawn at 18px and stretched horizontally
const labelSize = 18, labelStretch = 1.22;

const root = document.getElementById("root");

// Inward tick marks on all four sides of the frame, placed by the scales
function innerTicks(xt, yt, len) {
  return (index, scales, values, dims) => {
    const g = d3.create("svg:g").attr("stroke", ink).attr("stroke-width", 1.1);
    const top = dims.marginTop, bottom = dims.height - dims.marginBottom;
    const left = dims.marginLeft, right = dims.width - dims.marginRight;
    for (const t of xt) {
      const px = scales.x(t);
      g.append("line").attr("x1", px).attr("x2", px).attr("y1", bottom).attr("y2", bottom - len);
      g.append("line").attr("x1", px).attr("x2", px).attr("y1", top).attr("y2", top + len);
    }
    for (const t of yt) {
      const py = scales.y(t);
      g.append("line").attr("y1", py).attr("y2", py).attr("x1", left).attr("x2", left + len);
      g.append("line").attr("y1", py).attr("y2", py).attr("x1", right).attr("x2", right - len);
    }
    return g.node();
  };
}

// Tick labels left of the frame (y) and under it (x)
function tickLabels(xt, yt) {
  return (index, scales, values, dims) => {
    const g = d3.create("svg:g")
      .attr("font-family", "Liberation Sans, Arial, sans-serif")
      .attr("font-size", labelSize).attr("fill", ink);
    const left = dims.marginLeft, bottom = dims.height - dims.marginBottom;
    for (const t of yt) {
      g.append("text")
        .attr("transform", `translate(${left - 5},${scales.y(t)}) scale(${labelStretch},1)`)
        .attr("text-anchor", "end").attr("dy", "0.34em").text(t);
    }
    for (const t of xt) {
      g.append("text")
        .attr("transform", `translate(${scales.x(t)},${bottom + 19}) scale(${labelStretch},1)`)
        .attr("text-anchor", "middle").attr("dy", "0.34em").text(t);
    }
    return g.node();
  };
}

const weeks = d3.range(1, 53);

for (const p of panels) {
  const c = colFrame[p.col], r = rowFrame[p.row];
  const bottomRow = p.row === 5;
  const mL = 48, mR = 6, mT = 6, mB = bottomRow ? 34 : 6;
  const width = (c.right - c.left) + mL + mR;
  const height = r.h + mT + mB;

  const marks = [
    Plot.gridX(weekTicks, {stroke: "#d4d4d4", strokeOpacity: 1, strokeWidth: 1}),
    Plot.gridY(p.yTicks, {stroke: "#d4d4d4", strokeOpacity: 1, strokeWidth: 1})
  ];
  p.series.forEach((s, i) => {
    const dotted = i >= 3;
    marks.push(Plot.line(weeks, {
      x: w => w, y: w => s[w - 1],
      stroke: seriesColors[i], strokeWidth: dotted ? 1.5 : 1.35,
      strokeDasharray: dotted ? dotPattern : null,
      clip: true
    }));
  });
  marks.push(innerTicks(weekTicks, p.yTicks, 4));
  marks.push(Plot.frame({stroke: ink, strokeWidth: 1.3}));
  marks.push(tickLabels(bottomRow ? weekTicks : [], p.yTicks));

  const chart = Plot.plot({
    width, height,
    marginLeft: mL, marginRight: mR, marginTop: mT, marginBottom: mB,
    style: {background: "transparent", overflow: "visible"},
    x: {domain: c.xDomain, axis: null},
    y: {domain: p.yDomain, axis: null},
    marks
  });
  chart.classList.add("chart");
  chart.style.left = (c.left - mL) + "px";
  chart.style.top = (r.top - mT) + "px";
  root.appendChild(chart);

  // country label box centred on week 26
  const tag = document.createElement("div");
  tag.className = "tag";
  tag.textContent = p.code;
  tag.style.left = (c.left - mL + chart.scale("x").apply(26)) + "px";
  tag.style.top = (r.top + 12) + "px";
  root.appendChild(tag);
}

// Legend above the panels
const legend = d3.select(root).append("svg")
  .attr("width", 896).attr("height", 60)
  .style("position", "absolute").style("left", "0px").style("top", "0px");
const legendCols = [290, 497, 704];
seriesNames.forEach((name, i) => {
  const col = i % 3, rowY = i < 3 ? 19 : 45;
  const x0 = legendCols[col];
  legend.append("line")
    .attr("x1", x0).attr("x2", x0 + 52).attr("y1", rowY).attr("y2", rowY)
    .attr("stroke", seriesColors[i]).attr("stroke-width", i >= 3 ? 1.6 : 1.5)
    .attr("stroke-dasharray", i >= 3 ? dotPattern : null);
  legend.append("text")
    .attr("x", x0 + 72).attr("y", rowY).attr("dy", "0.36em")
    .attr("font-family", "Liberation Sans, Arial, sans-serif")
    .attr("font-size", 21.5).attr("fill", "#1a1a1a")
    .text(name);
});

// Axis description with its angled arrow
const arrow = d3.select(root).append("svg")
  .attr("width", 20).attr("height", 24)
  .style("position", "absolute").style("left", "22px").style("top", "82px");
arrow.append("path").attr("d", "M15,4 H6 V20").attr("fill", "none").attr("stroke", "#595959").attr("stroke-width", 1.2);
arrow.append("path").attr("d", "M3,16 L6,21 L9,16").attr("fill", "none").attr("stroke", "#595959").attr("stroke-width", 1.2);
const sub = document.createElement("div");
sub.className = "sub";
sub.innerHTML = "Aggregated hydropower storage value as weekly mean average in EUR/MWh<sub>el</sub>";
root.appendChild(sub);
</script>
</body>
</html>
